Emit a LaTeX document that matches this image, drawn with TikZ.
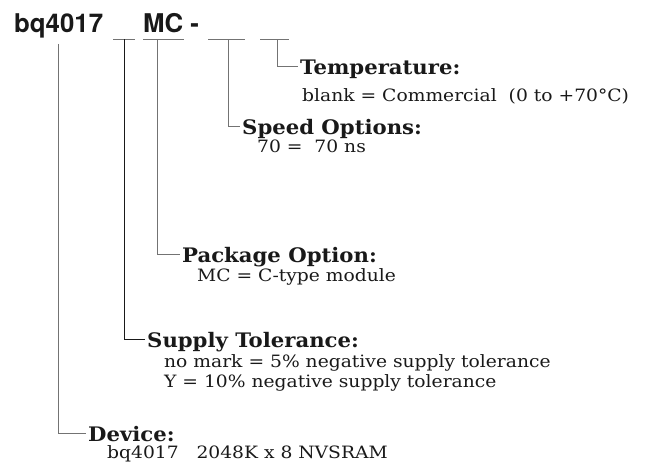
\documentclass[tikz,border=0pt]{standalone}
\usepackage{fontspec}
\setmainfont{DejaVu Serif}
\newfontfamily\hdrfont[FakeStretch=1.06]{DejaVu Serif}
\newfontfamily\txtfont[FakeStretch=1.10]{DejaVu Serif}
\setsansfont{TeX Gyre Heros}
\usetikzlibrary{positioning, calc}
\tikzset{
    hdr/.style={anchor=base west, inner xsep=2pt, inner ysep=0pt, font=\hdrfont\fontsize{20}{22}\selectfont\bfseries},
    txt/.style={anchor=base west, inner sep=0pt, font=\txtfont\fontsize{17}{20}\selectfont},
    bar/.style={draw=black!55, line width=1pt},
    lead/.style={draw=black!55, line width=1pt}
}
\begin{document}
\begin{tikzpicture}[x=1pt, y=-1pt]
    \useasboundingbox (0,0) rectangle (656,474);
    \tikzstyle{every node}=[text=black!90];
    % part number
    \node[anchor=base west, inner sep=0pt, font=\fontsize{25.8}{28}\selectfont\sffamily\bfseries] (pn) at (14,32) {bq4017};
    \node[anchor=base west, inner sep=0pt, font=\fontsize{25.8}{28}\selectfont\sffamily\bfseries] (mc) at (143,32) {MC -};
    \coordinate (b1l) at (113,39); \coordinate (b1r) at (135,39);
    \coordinate (b2l) at (143,39); \coordinate (b2r) at (184,39);
    \coordinate (b3l) at (208,39); \coordinate (b3r) at (245,39);
    \coordinate (b4l) at (260,39); \coordinate (b4r) at (289,39);
    \draw[bar] (b1l) -- (b1r);
    \draw[bar] (b2l) -- (b2r);
    \draw[bar] (b3l) -- (b3r);
    \draw[bar] (b4l) -- (b4r);
    % fields
    \node[hdr] (temp) at (298,74) {Temperature:};
    \node[txt] (tempv) at (302,101) {blank = Commercial\ \ (0 to +70°C)};
    \node[hdr] (speed) at (240,134) {Speed Options:};
    \node[txt] (speedv) at (257,152) {70 =\ \ 70 ns};
    \node[hdr] (pkg) at (180,262) {Package Option:};
    \node[txt] (pkgv) at (197,281) {MC = C-type module};
    \node[hdr] (sup) at (145,347) {Supply Tolerance:};
    \node[txt] (supv1) at (164,367) {no mark = 5\% negative supply tolerance};
    \node[txt] (supv2) at (164,387) {Y = 10\% negative supply tolerance};
    \node[hdr] (dev) at (86,441) {Device:};
    \node[txt] (devv) at (107,458) {bq4017\ \ \ 2048K x 8 NVSRAM};
    % leaders
    \draw[lead] (pn.south) ++(0,6) |- ([yshift=8pt]dev.base west);
    \draw[lead, draw=black!90] ($(b1l)!0.5!(b1r)$) |- ([yshift=8pt]sup.base west);
    \draw[lead] ($(b2l)!0.35!(b2r)$) |- ([yshift=8pt]pkg.base west);
    \draw[lead] ($(b3l)!0.55!(b3r)$) |- ([yshift=8pt]speed.base west);
    \draw[lead] ($(b4l)!0.6!(b4r)$) |- ([yshift=8pt]temp.base west);
\end{tikzpicture}
\end{document}
